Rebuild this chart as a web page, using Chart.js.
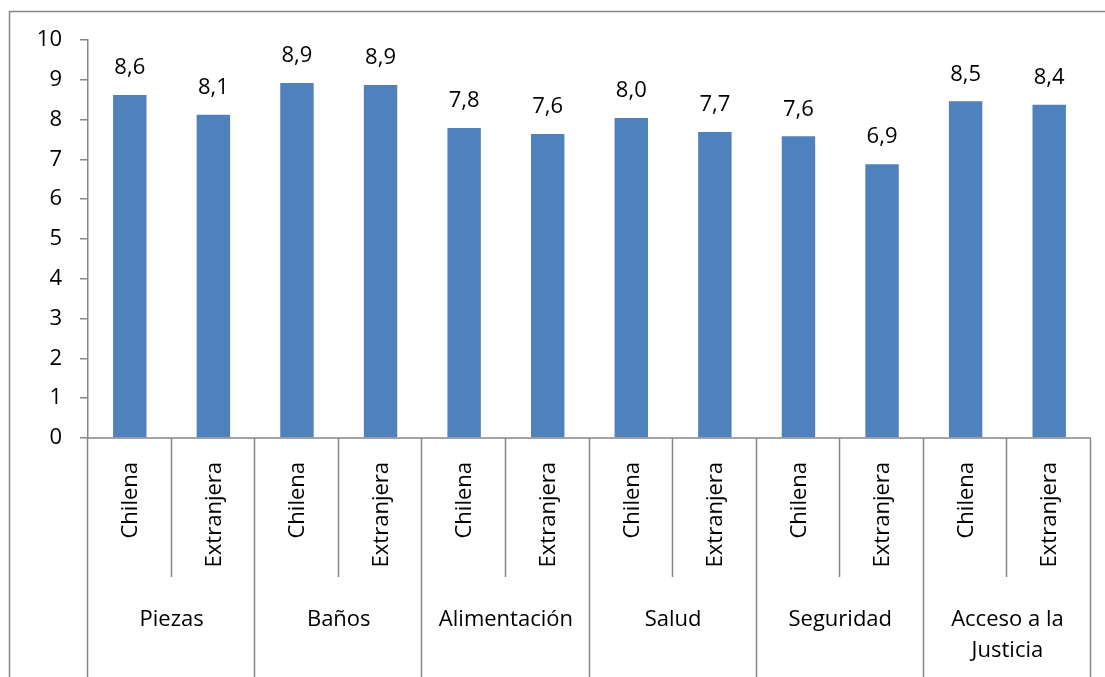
<!DOCTYPE html>
<html>
<head>
<meta charset="utf-8">
<script src="https://cdn.jsdelivr.net/npm/chart.js@4"></script>
<style>
html,body{margin:0;padding:0;background:#fff;}
#wrap{position:relative;width:1105px;height:677px;}
</style>
</head>
<body>
<div id="wrap"><canvas id="c" width="1105" height="677"></canvas></div>
<script>
const groups = ["Piezas", "Baños", "Alimentación", "Salud", "Seguridad", "Acceso a la\nJusticia"];
const subgroups = ["Chilena", "Extranjera"];
const values = [8.62, 8.12, 8.92, 8.87, 7.79, 7.64, 8.04, 7.69, 7.58, 6.88, 8.46, 8.37];
const yTicks = [0, 1, 2, 3, 4, 5, 6, 7, 8, 9, 10];

const categories = [];
groups.forEach(g => subgroups.forEach(s => categories.push(s)));

const FONT = "'Open Sans', sans-serif";
const FS = 22;
const AXIS = '#868686';

const customAxis = {
  id: 'customAxis',
  afterDraw(chart) {
    const ctx = chart.ctx;
    const area = chart.chartArea;
    const xs = chart.scales.x;
    const n = categories.length;
    const step = (area.right - area.left) / n;
    ctx.save();
    ctx.strokeStyle = AXIS;
    ctx.lineWidth = 1.5;
    ctx.beginPath();
    ctx.moveTo(9.5, 677);
    ctx.lineTo(9.5, 11.5);
    ctx.lineTo(1105, 11.5);
    ctx.stroke();
    ctx.beginPath();
    ctx.moveTo(area.left, area.bottom);
    ctx.lineTo(area.right, area.bottom);
    ctx.stroke();
    for (let i = 0; i <= n; i++) {
      const x = Math.round(area.left + i * step) - 0.5;
      ctx.beginPath();
      ctx.moveTo(x, area.bottom);
      ctx.lineTo(x, i % subgroups.length === 0 ? 677 : 577);
      ctx.stroke();
    }
    ctx.fillStyle = '#000';
    ctx.font = FS + 'px ' + FONT;
    for (let i = 0; i < n; i++) {
      const x = xs.getPixelForValue(i);
      ctx.save();
      ctx.translate(x + 1, 462);
      ctx.rotate(-Math.PI / 2);
      ctx.textAlign = 'right';
      ctx.textBaseline = 'middle';
      ctx.fillText(categories[i], 0, 0);
      ctx.restore();
    }
    ctx.textAlign = 'center';
    ctx.textBaseline = 'middle';
    groups.forEach((g, gi) => {
      const x0 = xs.getPixelForValue(gi * subgroups.length);
      const x1 = xs.getPixelForValue(gi * subgroups.length + subgroups.length - 1);
      const cx = (x0 + x1) / 2;
      g.split('\n').forEach((line, li) => {
        ctx.fillText(line, cx, 620 + li * 31);
      });
    });
    const meta = chart.getDatasetMeta(0);
    meta.data.forEach((el, i) => {
      ctx.fillText(values[i].toFixed(1).replace('.', ','), el.x, el.y - 27);
    });
    ctx.restore();
  }
};

new Chart(document.getElementById('c'), {
  type: 'bar',
  data: {
    labels: categories,
    datasets: [{
      data: values,
      backgroundColor: '#4F81BD',
      borderWidth: 0,
      categoryPercentage: 1,
      barPercentage: 0.4
    }]
  },
  options: {
    responsive: false,
    animation: false,
    devicePixelRatio: 1,
    layout: { padding: { left: 0, top: 40, right: 14, bottom: 239 } },
    plugins: { legend: { display: false }, tooltip: { enabled: false } },
    scales: {
      x: { display: false },
      y: {
        min: 0, max: 10,
        afterFit(scale) { scale.width = 88; },
        afterBuildTicks(scale) { scale.ticks = yTicks.map(v => ({ value: v })); },
        ticks: { color: '#000', padding: 18, font: { family: FONT, size: FS } },
        grid: { drawOnChartArea: false, tickLength: 8, color: AXIS, lineWidth: 1.5 },
        border: { color: AXIS, width: 1.5 }
      }
    }
  },
  plugins: [customAxis]
});
</script>
</body>
</html>
